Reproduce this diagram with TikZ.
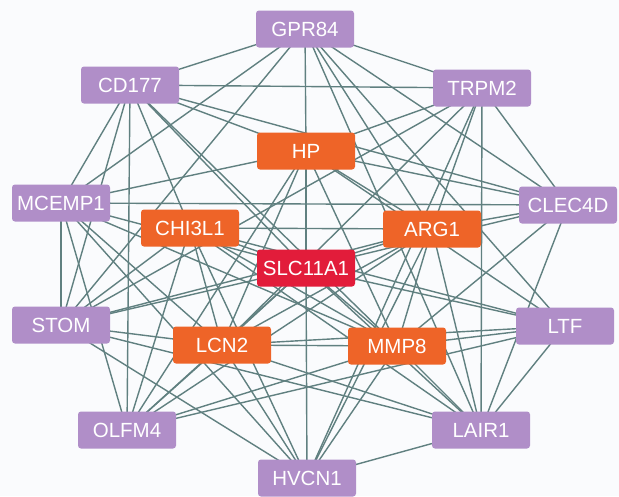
\documentclass[tikz,border=0pt]{standalone}
\usepackage{fontspec}
\setmainfont{Liberation Sans}
\usetikzlibrary{backgrounds}
\begin{document}
\begin{tikzpicture}[x=1pt,y=-1pt,
  gene/.style={rounded corners=3pt,minimum width=98pt,minimum height=37pt,inner sep=0pt,text=white,font=\fontsize{20.5}{20.5}\selectfont},
  purp/.style={gene,fill=nodepurple},
  orng/.style={gene,fill=nodeorange},
  redn/.style={gene,fill=nodered},
  link/.style={draw=edgecol,line width=1.4pt}]
\definecolor{nodepurple}{RGB}{176,142,200}
\definecolor{nodeorange}{RGB}{238,100,40}
\definecolor{nodered}{RGB}{226,28,58}
\definecolor{edgecol}{RGB}{96,128,128}
\definecolor{bgcol}{RGB}{250,251,253}
\useasboundingbox (0,0) rectangle (619,496);
\node[purp] (G) at (305,29) {GPR84};
\node[purp] (C) at (130,85) {CD177};
\node[purp] (T) at (482,88) {TRPM2};
\node[orng] (H) at (306,151) {HP};
\node[purp] (M) at (61,203) {MCEMP1};
\node[purp] (CL) at (568,205) {CLEC4D};
\node[orng] (CH) at (190,228) {CHI3L1};
\node[orng] (A) at (432,229) {ARG1};
\node[redn] (S) at (306,268) {SLC11A1};
\node[purp] (ST) at (61,325) {STOM};
\node[purp] (LT) at (565,326) {LTF};
\node[orng] (L) at (222,345) {LCN2};
\node[orng] (MM) at (397,346) {MMP8};
\node[purp] (O) at (127,430) {OLFM4};
\node[purp] (LA) at (481,430) {LAIR1};
\node[purp] (HV) at (307,478) {HVCN1};
\begin{pgfonlayer}{background}
\fill[bgcol] (0,0) rectangle (619,496);
\foreach \a/\b in {G/C,G/T,G/M,G/H,G/CL,G/A,G/ST,G/LA,G/LT,
  C/T,C/H,C/M,C/ST,C/O,C/CH,C/S,C/MM,C/CL,
  T/H,T/A,T/LA,T/CL,T/ST,T/L,T/HV,
  M/H,M/CL,M/ST,M/O,M/L,M/S,M/MM,M/HV,
  H/CL,H/S,H/L,H/MM,H/A,H/LT,H/O,
  CH/A,CH/ST,CH/S,CH/L,CH/MM,CH/LA,CH/HV,CH/O,CH/LT,
  A/CL,A/S,A/L,A/MM,A/O,A/ST,A/LA,A/HV,
  S/ST,S/LT,S/L,S/MM,S/LA,S/HV,S/O,S/CL,
  ST/L,ST/HV,ST/LA,
  LT/MM,LT/L,LT/O,LT/LA,
  L/MM,L/O,L/HV,L/LA,
  MM/O,MM/LA,MM/HV,MM/CL,
  LA/HV,CL/LA}
  {\draw[link] (\a.center) -- (\b.center);}
\end{pgfonlayer}
\end{tikzpicture}
\end{document}
